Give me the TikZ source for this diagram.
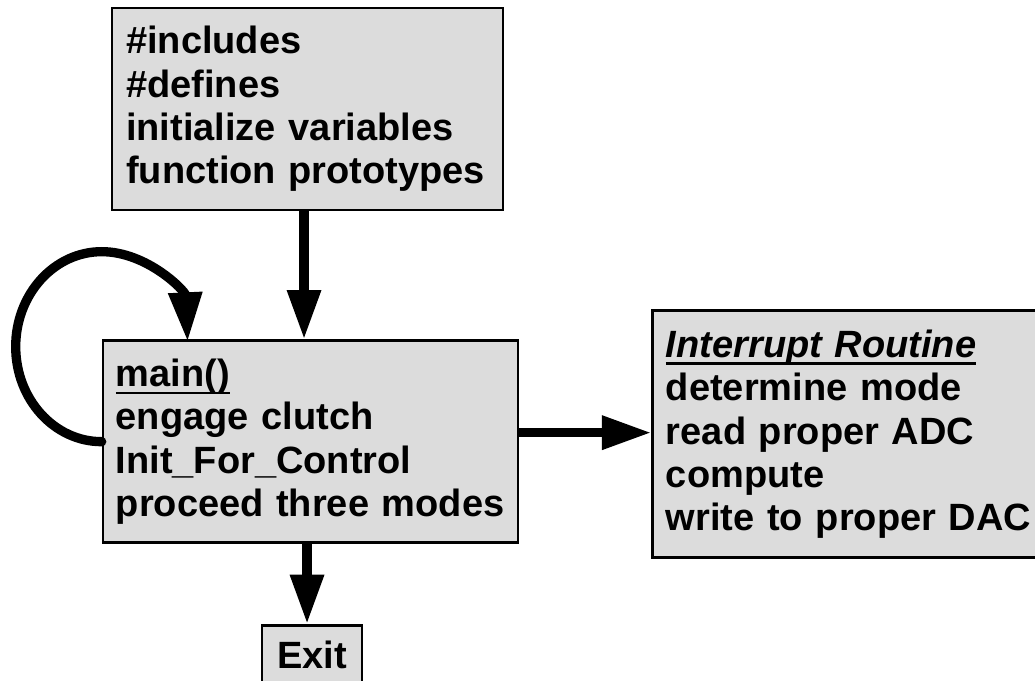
\documentclass[tikz,border=0pt]{standalone}
\usepackage{fontspec}
\setmainfont{Liberation Sans}
\usetikzlibrary{arrows.meta, positioning}
\definecolor{BoxFill}{RGB}{220,220,220}
\tikzset{
  % Grey text block with black frame
  blk/.style={
    rectangle, draw=black, fill=BoxFill, line width=2pt,
    align=left, font=\boxfont, inner ysep=0pt
  },
  arr/.style={-{Triangle[length=37pt, width=24pt]}, line width=7pt}
}
\newcommand{\boxfont}{\fontsize{28.5}{32.5}\selectfont\bfseries}
\newcommand{\ulbox}[1]{\setbox0\hbox{#1}\rlap{\rule[-6pt]{\wd0}{2.2pt}}\box0}

\begin{document}
\begin{tikzpicture}[x=0.75pt, y=-0.75pt]

  \useasboundingbox (0,0) rectangle (1035,681);
  \clip (0,0) rectangle (1035,681);

  %% ── Header block ───────────────────────────────────────────────────────────
  \node[blk, text width=272pt, inner xsep=10.6pt, minimum height=151.5pt] (hdr)
    at (307.5,109)
    {\#includes\\
     \#defines\\
     initialize variables\\
     function prototypes};

  %% ── Main loop ──────────────────────────────────────────────────────────────
  \node[blk, text width=292pt, inner xsep=9.6pt, minimum height=151.5pt,
        below=96pt of hdr, xshift=2.25pt] (mainb)
    {\ulbox{main()}\\
     engage clutch\\
     Init\_For\_Control\\
     proceed three modes};

  %% ── Interrupt routine (right, runs past the edge) ──────────────────────────
  \node[blk, text width=274pt, inner xsep=10pt, minimum height=185.25pt,
        right=99pt of mainb, yshift=5.6pt] (isr)
    {\ulbox{\itshape Interrupt Routine}\\
     determine mode\\
     read proper ADC\\
     compute\\
     write to proper DAC};

  %% ── Exit ───────────────────────────────────────────────────────────────────
  \node[blk, align=center, minimum width=75pt, inner xsep=0pt, inner ysep=11pt,
        text height=21pt, text depth=10pt, below=60pt of mainb, xshift=1.1pt] (ext)
    {Exit};

  %% ── Arrows ─────────────────────────────────────────────────────────────────
  \draw[arr] ([xshift=-2.6pt]hdr.south) -- ([xshift=-2.6pt]hdr.south |- mainb.north);
  \draw[arr] ([yshift=6.75pt]mainb.east) -- ([yshift=6.75pt]mainb.east -| isr.west);
  \draw[arr] ([xshift=-2.6pt]mainb.south) -- ([xshift=-2.6pt]mainb.south |- ext.north);
  % loop back into main()
  \draw[arr, line cap=round] (mainb.west)
    arc[start angle=270, end angle=3, x radius=64.5pt, y radius=71.25pt];

\end{tikzpicture}
\end{document}
